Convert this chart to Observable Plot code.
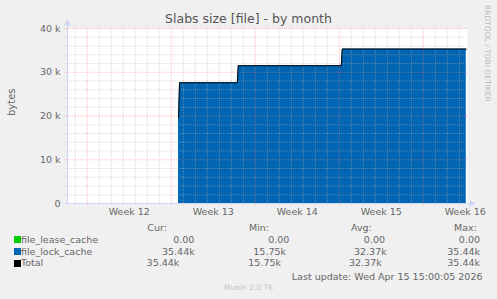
<!DOCTYPE html>
<html><head><meta charset="utf-8">
<script src="https://cdn.jsdelivr.net/npm/d3@7"></script>
<script src="https://cdn.jsdelivr.net/npm/@observablehq/plot@0.6"></script>
<style>
body{margin:0;background:#f0f0f0;}
#chart{position:relative;width:497px;height:299px;background:#f0f0f0;font-family:"DejaVu Sans",sans-serif;color:#666;overflow:hidden}
#chart svg{position:absolute;left:0;top:20px;}
.t{position:absolute;white-space:nowrap;font-size:9.5px;line-height:12px}
.sw{position:absolute;width:7px;height:7px}
</style></head><body><div id="chart"></div>
<script>
// ---- data ----
const title = "Slabs size [file] - by month";
const yLabel = "bytes";
const times = ["2026-03-23T14:30Z","2026-03-23T16:30Z","2026-03-28T12:00Z","2026-03-28T14:00Z","2026-04-06T04:00Z","2026-04-06T06:00Z","2026-04-16T14:00Z"];
const fileLeaseCache = [0, 0, 0, 0, 0, 0, 0];
const fileLockCache = [19700, 27600, 27600, 31500, 31500, 35300, 35300];
const yTicks = [0, 10000, 20000, 30000, 40000];
const yTickLabels = ["0", "10 k", "20 k", "30 k", "40 k"];
const weekTicks = ["2026-03-19T12:00Z","2026-03-26T12:00Z","2026-04-02T12:00Z","2026-04-09T12:00Z","2026-04-16T12:00Z"];
const weekLabels = ["Week 12", "Week 13", "Week 14", "Week 15", "Week 16"];
const weekStarts = ["2026-03-16T00:00Z","2026-03-23T00:00Z","2026-03-30T00:00Z","2026-04-06T00:00Z","2026-04-13T00:00Z"];
const seriesNames = ["file_lease_cache", "file_lock_cache", "Total"];
const seriesColors = ["#00cc00", "#0066b3", "#000000"];
const curVals = ["0.00", "35.44k", "35.44k"];
const minVals = ["0.00", "15.75k", "15.75k"];
const avgVals = ["0.00", "32.37k", "32.37k"];
const maxVals = ["0.00", "35.44k", "35.44k"];
const headers = ["Cur:", "Min:", "Avg:", "Max:"];
const lastUpdate = "Last update: Wed Apr 15 15:00:05 2026";
const version = "Munin 2.0.76";
const watermark = "RRDTOOL / TOBI OETIKER";

// ---- build ----
const xDomain = [new Date("2026-03-14T08:24Z"), new Date("2026-04-16T16:24Z")];
const rows = times.map((t, i) => ({t: new Date(t), lease: fileLeaseCache[i], lock: fileLockCache[i], total: fileLeaseCache[i] + fileLockCache[i]}));
const weekStartDates = weekStarts.map(d => new Date(d));
const dayLines = d3.utcDay.range(xDomain[0], xDomain[1]).filter(d => d.getUTCDay() !== 1);
const minorY = d3.range(2000, 40000, 2000).filter(v => v % 10000 !== 0);
const majorY = yTicks.filter(v => v > 0);
const axisCol = "#cfd6f8";
const gridMinor = {stroke: "#b4b4b4", strokeOpacity: 0.5, strokeDasharray: "1,1"};
const gridMajor = {stroke: "#ff7070", strokeOpacity: 0.45, strokeDasharray: "1,1"};

const plot = Plot.plot({
  width: 497, height: 200,
  marginTop: 8, marginBottom: 17, marginLeft: 67, marginRight: 30,
  style: {fontFamily: "DejaVu Sans, sans-serif", fontSize: "9.5px", color: "#666", background: "transparent"},
  x: {type: "utc", domain: xDomain},
  y: {domain: [0, 40000]},
  marks: [
    Plot.frame({fill: "#fff", stroke: "none"}),
    Plot.areaY(rows, {x: "t", y1: "lease", y2: "total", fill: "#0066b3", curve: "linear"}),
    Plot.ruleY(minorY, {...gridMinor, insetLeft: -2}),
    Plot.ruleX(dayLines, {...gridMinor, insetBottom: -2}),
    Plot.ruleY(majorY, {...gridMajor, insetLeft: -3}),
    Plot.ruleX(weekStartDates, {...gridMajor, insetBottom: -3}),
    Plot.lineY(rows, {x: "t", y: "total", stroke: "#000", strokeWidth: 1, curve: "linear"}),
    Plot.ruleX([xDomain[0]], {stroke: axisCol, insetTop: -4, insetBottom: -2}),
    Plot.ruleY([0], {stroke: axisCol, insetLeft: -2, insetRight: -3}),
    Plot.dot([{x: xDomain[0], y: 40000}], {x: "x", y: "y", symbol: "triangle", r: 2.6, fill: axisCol, stroke: "none", dy: -5}),
    Plot.dot([{x: xDomain[1], y: 0}], {x: "x", y: "y", symbol: "triangle", r: 2.6, fill: axisCol, stroke: "none", rotate: 90, dx: 4}),
    Plot.axisY({ticks: yTicks, tickFormat: (d, i) => yTickLabels[i], tickSize: 0, tickPadding: 7, label: null}),
    Plot.axisX({ticks: weekTicks.map(d => new Date(d)), tickFormat: (d, i) => weekLabels[i], tickSize: 0, tickPadding: 5, label: null}),
    Plot.text([yLabel], {frameAnchor: "left", text: d => d, rotate: -90, dx: -56, fontSize: 10, fill: "#666"})
  ]
});
const chart = document.getElementById("chart");
chart.appendChild(plot);

function addText(txt, opts) {
  const s = document.createElement("span");
  s.className = "t";
  s.textContent = txt;
  Object.assign(s.style, opts);
  chart.appendChild(s);
  return s;
}
// title
addText(title, {left: "0px", width: "497px", textAlign: "center", top: "12px", fontSize: "12.5px", lineHeight: "14px", color: "#555"});
// watermark
addText(watermark, {left: "483px", top: "5px", fontSize: "7.5px", lineHeight: "9px", writingMode: "vertical-rl", color: "#bbb"});
// legend
const rowCenters = [239.5, 251.5, 263.3];
const headerCenter = 228;
const headerLeft = [147.3, 249, 351, 454];
headers.forEach((h, i) => addText(h, {left: headerLeft[i] + "px", top: (headerCenter - 5.85) + "px"}));
const rightEdges = {
  cur: [194.3, 194.7, 179.3],
  min: [289.3, 286, 281],
  avg: [385, 386.7, 381.7],
  max: [480, 480, 480]
};
seriesNames.forEach((name, i) => {
  const c = rowCenters[i];
  const sw = document.createElement("div");
  sw.className = "sw";
  Object.assign(sw.style, {left: "13.5px", top: (c - 3.5) + "px", background: seriesColors[i]});
  chart.appendChild(sw);
  addText(name, {left: "21px", top: (c - 5.85) + "px"});
  [["cur", curVals], ["min", minVals], ["avg", avgVals], ["max", maxVals]].forEach(([k, vals]) => {
    addText(vals[i], {right: (497 - rightEdges[k][i]) + "px", top: (c - 5.85) + "px"});
  });
});
addText(lastUpdate, {right: (497 - 482.5) + "px", top: (277 - 5.85) + "px"});
addText(version, {left: "0px", width: "497px", textAlign: "center", top: (288 - 5) + "px", fontSize: "7.5px", lineHeight: "10px", color: "#c4c4c4"});
</script>
</body></html>
